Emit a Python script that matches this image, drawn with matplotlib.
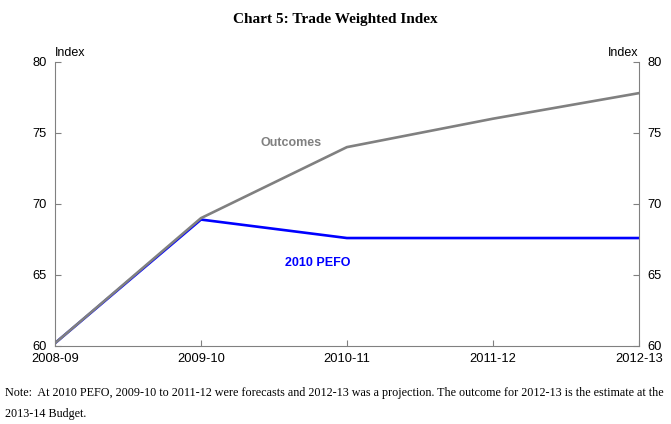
import matplotlib
matplotlib.use('Agg')
import matplotlib.pyplot as plt

plt.rcParams['font.family'] = ['Liberation Sans', 'DejaVu Sans']

years = ['2008-09', '2009-10', '2010-11', '2011-12', '2012-13']
outcomes = [60.2, 69.0, 74.0, 76.0, 77.8]
pefo = [60.2, 68.9, 67.6, 67.6, 67.6]
yticks = [60, 65, 70, 75, 80]

fig = plt.figure(figsize=(6.71, 4.24), dpi=100)
ax = fig.add_axes([0.082, 0.184, 0.870, 0.670])
x = range(len(years))
ax.plot(x, pefo, color='#0000ff', lw=1.9, zorder=2)
ax.plot(x, outcomes, color='#808080', lw=1.9, zorder=3)

ax.set_xlim(0, len(years) - 1)
ax.set_ylim(60, 80)
ax.set_xticks(list(x))
ax.set_xticklabels(years, fontsize=9.3)
ax.set_yticks(yticks)
ax.set_yticklabels([str(v) for v in yticks], fontsize=9.3)
ax.tick_params(axis='both', direction='in', length=4, color='#808080')
ax.tick_params(axis='x', pad=5)
ax.tick_params(axis='y', pad=6, which='both', right=True, labelright=True)
for s in ['left', 'right', 'bottom']:
    ax.spines[s].set_color('#808080')
ax.spines['top'].set_visible(False)

ax.text(0.0, 1.01, 'Index', transform=ax.transAxes, fontsize=9, ha='left', va='bottom')
ax.text(1.0, 1.01, 'Index', transform=ax.transAxes, fontsize=9, ha='right', va='bottom')

ax.text(1.62, 74.1, 'Outcomes', color='#808080', fontsize=9, fontweight='bold', ha='center')
ax.text(1.80, 65.6, '2010 PEFO', color='#0000ff', fontsize=9, fontweight='bold', ha='center')

fig.text(0.5, 0.955, 'Chart 5: Trade Weighted Index', family='Liberation Serif',
         fontsize=11, fontweight='bold', ha='center', va='center')
fig.text(0.007, 0.072, 'Note:  At 2010 PEFO, 2009-10 to 2011-12 were forecasts and 2012-13 was a projection. '
         'The outcome for 2012-13 is the estimate at the', family='Liberation Serif', fontsize=8.75,
         ha='left', va='center')
fig.text(0.007, 0.024, '2013-14 Budget.', family='Liberation Serif', fontsize=8.75,
         ha='left', va='center')

fig.savefig('out.png', dpi=100)
